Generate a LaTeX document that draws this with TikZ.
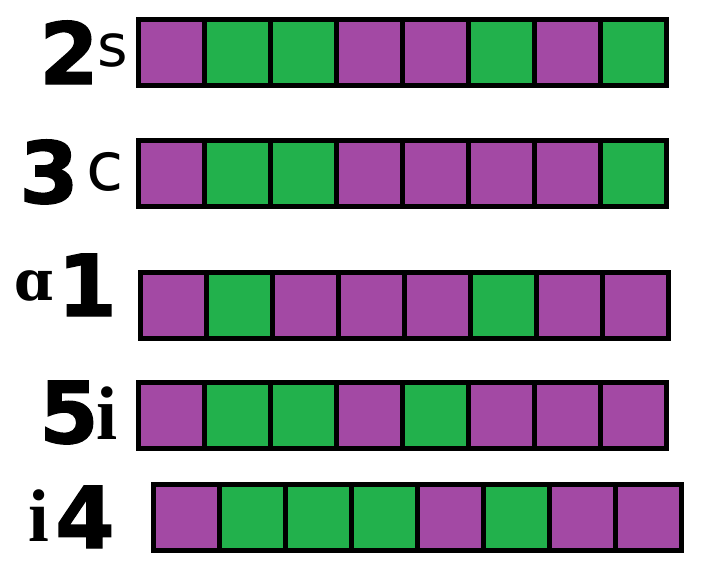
\documentclass[tikz,border=0pt]{standalone}
\usepackage{fontspec}
\newfontfamily\numfont{DejaVu Sans}[BoldFeatures={FakeBold=1.6}]
\newfontfamily\sansletter{DejaVu Sans}
\newfontfamily\serifletter{DejaVu Serif}
\newfontfamily\romanletter{Liberation Serif}
\definecolor{cellpurple}{HTML}{A349A4}
\definecolor{cellgreen}{HTML}{22B14C}
\tikzset{
  digit/.style={inner sep=0pt, anchor=base, font=\numfont\bfseries\fontsize{64}{64}\selectfont},
  letter/.style={inner sep=0pt, anchor=base},
  cell/.style={draw=black, line width=4pt}
}
% one strip of eight squares: x and y of the top left corner, then the colours
\newcommand{\cellrow}[3]{%
  \foreach \c [count=\i from 0] in {#3}{
    \filldraw[cell, fill=\c] (#1+\i*66, #2) rectangle ++(66,66);
  }%
}
\begin{document}
\begin{tikzpicture}[x=0.75pt, y=-0.75pt]
  \useasboundingbox (0,0) rectangle (723,576);

  \cellrow{138.5}{19.5}{cellpurple,cellgreen,cellgreen,cellpurple,cellpurple,cellgreen,cellpurple,cellgreen}
  \cellrow{138.5}{140.5}{cellpurple,cellgreen,cellgreen,cellpurple,cellpurple,cellpurple,cellpurple,cellgreen}
  \cellrow{140.5}{272.5}{cellpurple,cellgreen,cellpurple,cellpurple,cellpurple,cellgreen,cellpurple,cellpurple}
  \cellrow{138.5}{382.5}{cellpurple,cellgreen,cellgreen,cellpurple,cellgreen,cellpurple,cellpurple,cellpurple}
  \cellrow{153.5}{484.5}{cellpurple,cellgreen,cellgreen,cellgreen,cellpurple,cellgreen,cellpurple,cellpurple}

  \node[digit] (two) at (69,84) {2};
  \node[letter, font=\sansletter\fontsize{44}{44}\selectfont] (s) at (112.5,66) {s};

  \node[digit] (three) at (49,203) {3};
  \node[letter, font=\sansletter\fontsize{51}{51}\selectfont] (c) at (105,190) {c};

  \node[letter, font=\serifletter\bfseries\fontsize{42}{42}\selectfont] (alpha) at (34,300) {ɑ};
  \node[digit] (one) at (87,316) {1};

  \node[digit] (five) at (69,443) {5};
  \node[letter, font=\romanletter\bfseries\fontsize{57}{57}\selectfont] (iota) at (107,439) {i};

  \node[letter, font=\romanletter\bfseries\fontsize{56}{56}\selectfont] (iotb) at (38.5,541) {i};
  \node[digit] (four) at (85,548) {4};
\end{tikzpicture}
\end{document}
